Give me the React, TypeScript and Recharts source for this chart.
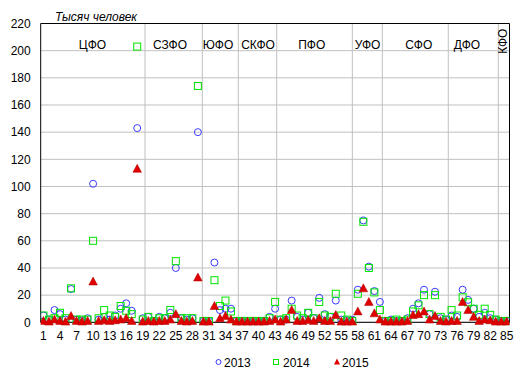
import React from 'react';
import {
  ScatterChart, Scatter, XAxis, YAxis, CartesianGrid, ReferenceLine, ReferenceDot, Legend,
} from 'recharts';

// Region numbers 1..85
const regions: number[] = Array.from({ length: 85 }, (_, k) => k + 1);

const values2013: number[] = [
  5, 2, 9, 6, 2, 24.5, 2, 1.5, 3, 102,
  2, 4, 2, 5, 10, 14, 8.5, 143, 3, 4,
  1, 4, 3, 7, 40, 3, 2, 3, 140, 1,
  1, 44, 9, 10, 10, 1, 1, 1, 1, 1,
  1, 4, 10, 2, 2, 16, 4, 2, 7, 3,
  18, 6, 4, 16, 2, 1.5, 2, 24, 75, 41,
  23, 15, 1, 2, 1, 1, 3, 10, 14, 24,
  6, 22.5, 3, 2, 5, 4, 24, 16.5, 10, 4,
  7, 3, 2, 1, 1,
];

const values2014: number[] = [
  5, 2, 3, 7, 3, 25, 2, 2, 2, 60,
  3, 9, 5, 4, 12, 8.5, 6, 203, 2, 4,
  1, 3, 3, 9, 45, 3, 3, 3, 174, 1,
  1, 31, 12, 16, 8, 1, 1, 1, 1, 1,
  1, 3, 15, 2, 3, 10, 5, 3, 7, 3,
  15, 5, 4, 21, 5, 2, 1, 21, 74, 40,
  22, 9, 1, 1, 2, 1, 2, 8, 12.5, 20,
  6, 20, 4, 2, 9, 5, 18.4, 14.7, 10, 5.5,
  10, 5.5, 2, 1, 1,
];

const values2015: number[] = [
  1, 0.5, 2, 1, 0.5, 4.6, 1, 0.5, 1, 30,
  1, 1.5, 1, 1.5, 2, 3, 1, 113, 0.5, 1,
  0.5, 1, 1, 2, 6, 1, 0.5, 1, 33, 0.5,
  0.5, 12, 3, 4.6, 2, 0.5, 0.5, 0.5, 0.5, 0.5,
  0.5, 1, 2, 0.5, 2, 9, 1, 1, 1.7, 1,
  3, 1, 1, 5.4, 0.5, 0.5, 0.5, 8, 25, 15,
  6.6, 2, 0.5, 0.5, 0.5, 0.5, 1, 5.4, 6, 8,
  2, 4.6, 1, 0.5, 1, 1, 15, 9, 4, 1,
  2, 1.5, 0.5, 0.5, 0.5,
];

const xTicks: number[] = [1, 4, 7, 10, 13, 16, 19, 22, 25, 28, 31, 34, 37, 40, 43, 46, 49, 52, 55, 58, 61, 64, 67, 70, 73, 76, 79, 82, 85];
const yTicks: number[] = [0, 20, 40, 60, 80, 100, 120, 140, 160, 180, 200, 220];

// District separators (in region-number units) and district label positions
const districtBounds: number[] = [19.41, 29.8, 36.33, 43.29, 57.0, 62.44, 74.4, 83.47];
const districtNames: string[] = ['ЦФО', 'СЗФО', 'ЮФО', 'СКФО', 'ПФО', 'УФО', 'СФО', 'ДФО', 'КФО'];
const districtLabelX: number[] = [9.89, 23.94, 32.65, 39.9, 49.64, 59.76, 69.04, 77.8, 84.3];

const seriesNames: string[] = ['2013', '2014', '2015'];

const toPts = (vals: number[]) => regions.map((r, k) => ({ x: r, y: vals[k] }));
const d2013 = toPts(values2013);
const d2014 = toPts(values2014);
const d2015 = toPts(values2015);

const BLUE = '#3a3aff';
const GREEN = '#00e600';
const RED = '#e00000';

const CircleShape = (p: any) => (
  <circle cx={p.cx} cy={p.cy} r={3.5} fill="none" stroke={BLUE} strokeWidth={1} />
);
const SquareShape = (p: any) => (
  <rect x={p.cx - 3.5} y={p.cy - 3.5} width={7} height={7} fill="none" stroke={GREEN} strokeWidth={1} />
);
const TriShape = (p: any) => (
  <polygon
    points={`${p.cx},${p.cy - 4.5} ${p.cx - 4.3},${p.cy + 3.5} ${p.cx + 4.3},${p.cy + 3.5}`}
    fill={RED}
    stroke="#b00000"
    strokeWidth={0.5}
  />
);

const LegendContent = () => (
  <svg width={521} height={20} style={{ display: 'block' }}>
    <circle cx={218.5} cy={10} r={2.5} fill="none" stroke={BLUE} strokeWidth={1} />
    <text x={224} y={14.5} fontSize={12} fontFamily="'Liberation Sans', Arial, sans-serif" fill="#000">{seriesNames[0]}</text>
    <rect x={273.5} y={7.5} width={5} height={5} fill="none" stroke={GREEN} strokeWidth={1} />
    <text x={283} y={14.5} fontSize={12} fontFamily="'Liberation Sans', Arial, sans-serif" fill="#000">{seriesNames[1]}</text>
    <polygon points="337,6.5 334,12.5 340,12.5" fill={RED} />
    <text x={342} y={14.5} fontSize={12} fontFamily="'Liberation Sans', Arial, sans-serif" fill="#000">{seriesNames[2]}</text>
  </svg>
);

const FONT = "'Liberation Sans', Arial, sans-serif";

export default function App() {
  return (
    <div style={{ position: 'absolute', left: 0, top: 0, width: 521, height: 377, background: '#fff' }}>
      <ScatterChart
        width={521}
        height={377}
        margin={{ top: 23.5, right: 11.5, bottom: 5.3, left: 0 }}
      >
        <CartesianGrid horizontal vertical={false} stroke="#c0c0c0" />
        <XAxis
          type="number"
          dataKey="x"
          domain={[0.5, 85.5]}
          ticks={xTicks}
          interval={0}
          height={29.4}
          tickLine={false}
          tickSize={7}
          tickMargin={2}
          axisLine={{ stroke: '#000' }}
          tick={{ fill: '#000', fontSize: 12, fontFamily: FONT }}
          allowDataOverflow
        />
        <YAxis
          type="number"
          dataKey="y"
          domain={[0, 220]}
          ticks={yTicks}
          interval={0}
          width={40.7}
          tickLine={false}
          tickSize={8}
          tickMargin={2}
          axisLine={{ stroke: '#000' }}
          tick={{ fill: '#000', fontSize: 12, fontFamily: FONT }}
          label={{
            content: () => (
              <text x={55} y={20.5} fontSize={12} fontStyle="italic" fontFamily={FONT} fill="#000">
                Тысяч человек
              </text>
            ),
          }}
        />
        {districtBounds.map((b, k) => (
          <ReferenceLine key={'b' + k} x={b} stroke="#c0c0c0" strokeWidth={1} />
        ))}
        <ReferenceLine y={220} stroke="#000" strokeWidth={1} />
        <ReferenceLine x={85.5} stroke="#000" strokeWidth={1} />
        {districtNames.map((n, k) => (
          <ReferenceDot
            key={'n' + k}
            x={districtLabelX[k]}
            y={k === 8 ? 207 : 204.4}
            r={0}
            shape={() => null}
            label={{
              value: n,
              position: 'center',
              fill: '#000',
              fontSize: 12,
              fontFamily: FONT,
              angle: k === 8 ? -90 : 0,
            }}
          />
        ))}
        <Legend verticalAlign="bottom" content={LegendContent} wrapperStyle={{ left: 0, width: 521, height: 20 }} />
        <Scatter name={seriesNames[0]} data={d2013} shape={CircleShape} isAnimationActive={false} />
        <Scatter name={seriesNames[1]} data={d2014} shape={SquareShape} isAnimationActive={false} />
        <Scatter name={seriesNames[2]} data={d2015} shape={TriShape} isAnimationActive={false} />
      </ScatterChart>
    </div>
  );
}
